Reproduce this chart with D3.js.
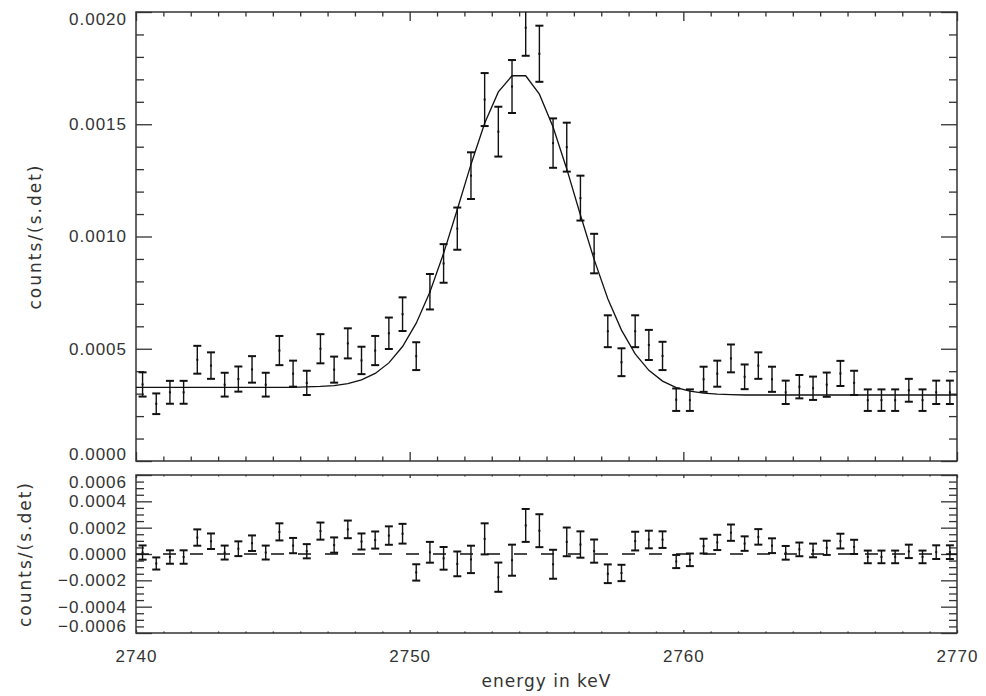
<!DOCTYPE html>
<HTML>
<HEAD>
<META charset="utf-8">
<TITLE>Peak fit with residuals</TITLE>

<STYLE>
body {
    margin: 0;
    background: white;
}
svg {
    display: block;
    width: 986px;
    height: 696px;
    font-family: "DejaVu Sans", sans-serif;
}
.axis text {
    font-size: 17px;
    letter-spacing: 1px;
    fill: #333;
}
.axis path, .axis line {
    stroke: #333;
    stroke-width: 1.3;
}
</STYLE>

<SCRIPT type="text/javascript" src="https://d3js.org/d3.v7.min.js"></SCRIPT>
</HEAD>

<BODY>
<SVG id="chart"></SVG>

<SCRIPT type="text/javascript">

// bin centres in keV
const energies = [
    2740.24, 2740.74, 2741.24, 2741.74, 2742.24, 2742.74, 2743.24, 2743.74, 2744.24, 2744.74,
    2745.24, 2745.74, 2746.24, 2746.74, 2747.24, 2747.74, 2748.24, 2748.74, 2749.24, 2749.74,
    2750.24, 2750.74, 2751.24, 2751.74, 2752.24, 2752.74, 2753.24, 2753.74, 2754.24, 2754.74,
    2755.24, 2755.74, 2756.24, 2756.74, 2757.24, 2757.74, 2758.24, 2758.74, 2759.24, 2759.74,
    2760.24, 2760.74, 2761.24, 2761.74, 2762.24, 2762.74, 2763.24, 2763.74, 2764.24, 2764.74,
    2765.24, 2765.74, 2766.24, 2766.74, 2767.24, 2767.74, 2768.24, 2768.74, 2769.24, 2769.74
];

// measured rate, counts/(s.det)
const counts = [
    0.000341, 0.000255, 0.000306, 0.000306, 0.000451, 0.000425, 0.000340, 0.000365, 0.000408, 0.000340,
    0.000492, 0.000389, 0.000348, 0.000500, 0.000407, 0.000524, 0.000448, 0.000492, 0.000569, 0.000654,
    0.000467, 0.000754, 0.000880, 0.001035, 0.001271, 0.001610, 0.001467, 0.001668, 0.001930, 0.001814,
    0.001416, 0.001398, 0.001171, 0.000924, 0.000578, 0.000440, 0.000578, 0.000517, 0.000468, 0.000273,
    0.000271, 0.000364, 0.000389, 0.000457, 0.000375, 0.000425, 0.000364, 0.000306, 0.000331, 0.000324,
    0.000340, 0.000390, 0.000348, 0.000271, 0.000271, 0.000271, 0.000315, 0.000271, 0.000306, 0.000306
];

// 1 sigma errors
const errors = [
    0.000054, 0.000046, 0.000051, 0.000051, 0.000062, 0.000059, 0.000053, 0.000056, 0.000059, 0.000053,
    0.000065, 0.000058, 0.000054, 0.000065, 0.000058, 0.000067, 0.000061, 0.000065, 0.000070, 0.000075,
    0.000062, 0.000079, 0.000086, 0.000094, 0.000104, 0.000118, 0.000111, 0.000118, 0.000125, 0.000125,
    0.000110, 0.000109, 0.000100, 0.000088, 0.000071, 0.000062, 0.000071, 0.000067, 0.000063, 0.000050,
    0.000048, 0.000056, 0.000058, 0.000062, 0.000055, 0.000059, 0.000056, 0.000052, 0.000052, 0.000052,
    0.000054, 0.000056, 0.000054, 0.000048, 0.000048, 0.000048, 0.000051, 0.000048, 0.000052, 0.000052
];

// fitted model at each bin
const fit = [
    0.000328, 0.000328, 0.000328, 0.000328, 0.000328, 0.000328, 0.000328, 0.000328, 0.000328, 0.000328,
    0.000328, 0.000328, 0.000330, 0.000332, 0.000336, 0.000345, 0.000361, 0.000390, 0.000437, 0.000510,
    0.000614, 0.000753, 0.000925, 0.001120, 0.001321, 0.001504, 0.001644, 0.001716, 0.001716, 0.001634,
    0.001488, 0.001301, 0.001096, 0.000898, 0.000723, 0.000583, 0.000477, 0.000404, 0.000356, 0.000327,
    0.000311, 0.000302, 0.000298, 0.000296, 0.000294, 0.000294, 0.000294, 0.000294, 0.000294, 0.000294,
    0.000294, 0.000294, 0.000294, 0.000294, 0.000294, 0.000294, 0.000294, 0.000294, 0.000294, 0.000294
];

// data - fit
const residuals = [
    0.000011, -0.000072, -0.000023, -0.000023, 0.000125, 0.000097, 0.000011, 0.000040, 0.000082, 0.000011,
    0.000168, 0.000064, 0.000021, 0.000174, 0.000068, 0.000187, 0.000095, 0.000106, 0.000140, 0.000154,
    -0.000140, 0.000013, -0.000033, -0.000075, -0.000041, 0.000115, -0.000176, -0.000047, 0.000217, 0.000177,
    -0.000078, 0.000092, 0.000072, 0.000022, -0.000150, -0.000144, 0.000098, 0.000110, 0.000109, -0.000057,
    -0.000044, 0.000060, 0.000088, 0.000162, 0.000079, 0.000130, 0.000063, 0.000009, 0.000035, 0.000027,
    0.000047, 0.000098, 0.000054, -0.000022, -0.000022, -0.000022, 0.000020, -0.000022, 0.000014, 0.000014
];

const xTicks = [2740, 2750, 2760, 2770];
const topYTicks = [0.0000, 0.0005, 0.0010, 0.0015, 0.0020];
const botYTicks = [-0.0006, -0.0004, -0.0002, 0.0000, 0.0002, 0.0004, 0.0006];

const X_LABEL = "energy in keV";
const Y_LABEL = "counts/(s.det)";

const chart = d3.select("#chart");

const LEFT = 136, RIGHT = 957;
const TOP1 = 12, BOT1 = 461;
const TOP2 = 475, BOT2 = 633;
const FS = 17;

const x = d3.scaleLinear().domain([2740, 2770]).range([LEFT, RIGHT]);
const yTop = d3.scaleLinear().domain([0, 0.002]).range([BOT1, TOP1]);
const yBot = d3.scaleLinear().domain([-0.0006, 0.0006]).range([BOT2, TOP2]);

const xMinor = d3.range(2740, 2771, 1).filter(v => !xTicks.includes(v));
const topYMinor = d3.range(0, 21).map(k => k * 0.0001).filter((v, k) => k % 5 != 0);
const botYMinor = d3.range(-12, 13).map(k => k * 0.00005).filter((v, k) => k % 4 != 0);

const fmt = d3.format(".4f");

function drawPanel(y, top, bottom, yMajor, yMinor, xTickLen, showX) {
    const g = chart.append("g");

    // y ticks, left side with labels
    const left = g.append("g")
                  .attr("class", "axis")
                  .attr("transform", `translate(${LEFT},0)`)
                  .call(d3.axisLeft(y).tickValues(yMajor).tickSize(-16).tickSizeOuter(0)
                          .tickPadding(9).tickFormat(fmt));
    // keep end labels inside the panel, like IDL does
    left.selectAll(".tick text")
        .attr("y", function(d) {
            const p = y(d);
            const c = Math.min(Math.max(p, top + 7.5), bottom - 6.5);
            return c - p;
        });
    g.append("g")
     .attr("class", "axis")
     .attr("transform", `translate(${LEFT},0)`)
     .call(d3.axisLeft(y).tickValues(yMinor).tickSize(-8).tickSizeOuter(0).tickFormat(""));

    // y ticks, right side
    g.append("g")
     .attr("class", "axis")
     .attr("transform", `translate(${RIGHT},0)`)
     .call(d3.axisRight(y).tickValues(yMajor).tickSize(-16).tickSizeOuter(0).tickFormat(""));
    g.append("g")
     .attr("class", "axis")
     .attr("transform", `translate(${RIGHT},0)`)
     .call(d3.axisRight(y).tickValues(yMinor).tickSize(-8).tickSizeOuter(0).tickFormat(""));

    // x ticks top and bottom
    g.append("g")
     .attr("class", "axis")
     .attr("transform", `translate(0,${top})`)
     .call(d3.axisTop(x).tickValues(xTicks).tickSize(-xTickLen).tickSizeOuter(0).tickFormat(""));
    g.append("g")
     .attr("class", "axis")
     .attr("transform", `translate(0,${top})`)
     .call(d3.axisTop(x).tickValues(xMinor).tickSize(-xTickLen / 2).tickSizeOuter(0).tickFormat(""));

    g.append("g")
     .attr("class", "axis")
     .attr("transform", `translate(0,${bottom})`)
     .call(d3.axisBottom(x).tickValues(xTicks).tickSize(-xTickLen).tickSizeOuter(0)
             .tickPadding(17).tickFormat(showX ? d3.format("d") : ""));
    g.append("g")
     .attr("class", "axis")
     .attr("transform", `translate(0,${bottom})`)
     .call(d3.axisBottom(x).tickValues(xMinor).tickSize(-xTickLen / 2).tickSizeOuter(0).tickFormat(""));

    g.selectAll(".axis .domain").remove();

    g.append("rect")
     .attr("x", LEFT)
     .attr("y", top)
     .attr("width", RIGHT - LEFT)
     .attr("height", bottom - top)
     .style("fill", "none")
     .style("stroke", "#333")
     .style("stroke-width", 1.5);

    return g;
}

function drawErrorBars(g, y, values, clipId) {
    const bars = g.append("g")
                  .attr("clip-path", `url(#${clipId})`)
                  .selectAll("g")
                  .data(values)
                  .enter()
                  .append("g");

    bars.append("line")
        .attr("x1", (d, i) => x(energies[i]))
        .attr("x2", (d, i) => x(energies[i]))
        .attr("y1", (d, i) => y(d + errors[i]))
        .attr("y2", (d, i) => y(d - errors[i]))
        .style("stroke", "#111")
        .style("stroke-width", 1.4);

    [1, -1].forEach(s => {
        bars.append("line")
            .attr("x1", (d, i) => x(energies[i]) - 4)
            .attr("x2", (d, i) => x(energies[i]) + 4)
            .attr("y1", (d, i) => y(d + s * errors[i]))
            .attr("y2", (d, i) => y(d + s * errors[i]))
            .style("stroke", "#111")
            .style("stroke-width", 2);
    });

    bars.append("rect")
        .attr("x", (d, i) => x(energies[i]) - 1)
        .attr("y", (d) => y(d) - 1)
        .attr("width", 2)
        .attr("height", 2)
        .style("fill", "#111");
}

const defs = chart.append("defs");
defs.append("clipPath").attr("id", "clipTop")
    .append("rect").attr("x", LEFT).attr("y", TOP1).attr("width", RIGHT - LEFT).attr("height", BOT1 - TOP1);
defs.append("clipPath").attr("id", "clipBot")
    .append("rect").attr("x", LEFT).attr("y", TOP2).attr("width", RIGHT - LEFT).attr("height", BOT2 - TOP2);

// top panel: spectrum and fit
const topPanel = drawPanel(yTop, TOP1, BOT1, topYTicks, topYMinor, 9, false);

const fitLine = d3.line()
                  .x(d => x(d[0]))
                  .y(d => yTop(d[1]));
const fitPts = [[2740, fit[0]]]
    .concat(energies.map((e, i) => [e, fit[i]]))
    .concat([[2770, fit[fit.length - 1]]]);

topPanel.append("path")
        .datum(fitPts)
        .attr("d", fitLine)
        .attr("clip-path", "url(#clipTop)")
        .style("fill", "none")
        .style("stroke", "#111")
        .style("stroke-width", 1.3);

drawErrorBars(topPanel, yTop, counts, "clipTop");

// bottom panel: residuals
const botPanel = drawPanel(yBot, TOP2, BOT2, botYTicks, botYMinor, 3, true);

botPanel.append("line")
        .attr("x1", LEFT)
        .attr("x2", RIGHT)
        .attr("y1", yBot(0))
        .attr("y2", yBot(0))
        .style("stroke", "#111")
        .style("stroke-width", 1.3)
        .style("stroke-dasharray", "13,14");

drawErrorBars(botPanel, yBot, residuals, "clipBot");

// titles
chart.append("text")
     .attr("transform", `translate(41,${(TOP1 + BOT1) / 2}) rotate(-90)`)
     .attr("text-anchor", "middle")
     .style("font-size", FS + "px")
     .style("letter-spacing", "2px")
     .style("fill", "#333")
     .text(Y_LABEL);

chart.append("text")
     .attr("transform", `translate(31,${(TOP2 + BOT2) / 2}) rotate(-90)`)
     .attr("text-anchor", "middle")
     .style("font-size", FS + "px")
     .style("letter-spacing", "2px")
     .style("fill", "#333")
     .text(Y_LABEL);

chart.append("text")
     .attr("x", (LEFT + RIGHT) / 2)
     .attr("y", 687)
     .attr("text-anchor", "middle")
     .style("font-size", FS + "px")
     .style("letter-spacing", "1px")
     .style("fill", "#333")
     .text(X_LABEL);

</SCRIPT>
</BODY>
</HTML>
